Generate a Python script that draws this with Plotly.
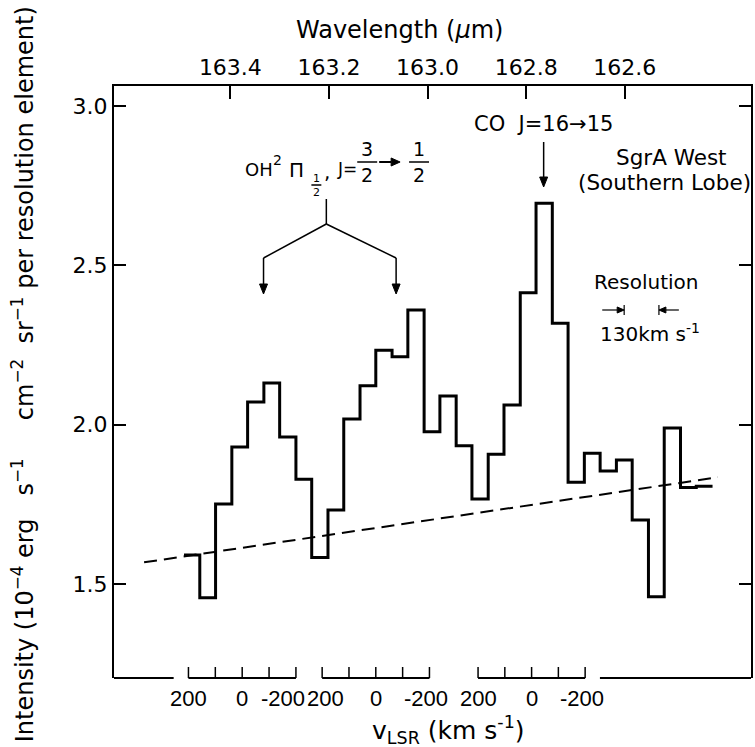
import plotly.graph_objects as go

# Channel centres (um) and intensities (1e-4 erg s-1 cm-2 sr-1 per resolution element)
wavelength = [163.478, 163.446, 163.413, 163.381, 163.348, 163.316, 163.283, 163.251,
              163.218, 163.186, 163.153, 163.121, 163.088, 163.056, 163.023, 162.991,
              162.958, 162.926, 162.893, 162.861, 162.828, 162.796, 162.763, 162.731,
              162.698, 162.666, 162.633, 162.601, 162.568, 162.536, 162.503, 162.471,
              162.438]
intensity = [1.591, 1.457, 1.751, 1.930, 2.071, 2.131, 1.961, 1.829,
             1.583, 1.732, 2.018, 2.122, 2.234, 2.213, 2.360, 1.978,
             2.090, 1.934, 1.767, 1.907, 2.062, 2.414, 2.695, 2.318,
             1.819, 1.910, 1.855, 1.889, 1.701, 1.460, 1.990, 1.803,
             1.807]

# Adopted continuum (end points)
continuum_wl = [163.575, 162.411]
continuum = [1.568, 1.835]

# Axis ticks
wl_ticks = [163.4, 163.2, 163.0, 162.8, 162.6]
wl_tick_text = ["163.4", "163.2", "163.0", "162.8", "162.6"]
int_ticks = [1.5, 2.0, 2.5, 3.0]
int_tick_text = ["1.5", "2.0", "2.5", "3.0"]

# Velocity scales: zero-velocity wavelengths of OH (two components) and CO
line_zero_wl = [163.376, 163.105, 162.789]
vel_ticks = [200, 100, 0, -100, -200]
vel_labels = [200, 0, -200]
C_KMS = 299792.458
RESOLUTION_KMS = 130
resolution_centre_wl = 162.566

X_RANGE = [163.636, 162.344]
Y_RANGE = [1.205, 3.063]

WIDTH, HEIGHT = 755, 747
L, R, T, B = 114, 2, 86, 69
PW, PH = WIDTH - L - R, HEIGHT - T - B
FONT = "DejaVu Sans"
NARROW = "Liberation Sans Narrow, Arial Narrow, Liberation Sans"


def px(xp):
    return (xp - L) / PW


def py(yp):
    return (HEIGHT - B - yp) / PH


def wl_to_px(w):
    return L + (X_RANGE[0] - w) / (X_RANGE[0] - X_RANGE[1]) * PW


def vel_to_wl(w0, v):
    return w0 * (1 + v / C_KMS)


# step-histogram edges from the channel centres
half = (wavelength[0] - wavelength[1]) / 2
edges = [wavelength[0] + half] + [w - half for w in wavelength]
steps = intensity + [intensity[-1]]

fig = go.Figure()
fig.add_trace(go.Scatter(x=continuum_wl, y=continuum, mode="lines",
                         line=dict(color="black", width=2, dash="13px,7px"),
                         hoverinfo="skip"))
fig.add_trace(go.Scatter(x=edges, y=steps, mode="lines",
                         line=dict(color="black", width=3, shape="hv")))

shapes = []
annotations = []
ink = dict(color="black", width=2)
thin = dict(color="black", width=1.5)


def seg(x0, y0, x1, y1, line=thin):
    shapes.append(dict(type="line", xref="paper", yref="paper", x0=px(x0), y0=py(y0),
                       x1=px(x1), y1=py(y1), line=line))


def arrow(x0, y0, x1, y1, head=10, wing=4, width=1.5):
    """Straight arrow from (x0, y0) to the tip (x1, y1), all in page pixels."""
    dx, dy = x1 - x0, y1 - y0
    n = (dx * dx + dy * dy) ** 0.5
    ux, uy = dx / n, dy / n
    bx, by = x1 - ux * head, y1 - uy * head
    seg(x0, y0, bx, by, dict(color="black", width=width))
    pts = [(x1, y1), (bx - uy * wing, by + ux * wing), (bx + uy * wing, by - ux * wing)]
    path = "M " + " L ".join(f"{px(a):.5f},{py(b):.5f}" for a, b in pts) + " Z"
    shapes.append(dict(type="path", xref="paper", yref="paper", path=path,
                       fillcolor="black", line=dict(color="black", width=1)))


# broken lower axis carrying the three velocity scales
tick_h = 11 / PH
gap = 0.03
pos_shift = [0, 3, 0]      # nudges so neighbouring scale labels do not collide
neg_shift = [-13, -3, -3]
for gi, w0 in enumerate(line_zero_wl):
    xs = [vel_to_wl(w0, v) for v in vel_ticks]
    shapes.append(dict(type="line", xref="x", yref="paper", x0=xs[0], x1=xs[-1],
                       y0=0, y1=0, line=ink))
    for x in xs:
        shapes.append(dict(type="line", xref="x", yref="paper", x0=x, x1=x,
                           y0=0, y1=tick_h, line=thin))
    for v in vel_labels:
        shift = neg_shift[gi] if v < 0 else (pos_shift[gi] if v > 0 else 0)
        annotations.append(dict(x=vel_to_wl(w0, v), y=-20 / PH, xref="x", yref="paper",
                                text=str(v), showarrow=False, xshift=shift,
                                font=dict(family=NARROW, size=22),
                                xanchor="center", yanchor="middle"))
shapes.append(dict(type="line", xref="x", yref="paper", x0=X_RANGE[0],
                   x1=vel_to_wl(line_zero_wl[0], vel_ticks[0]) + gap, y0=0, y1=0, line=ink))
shapes.append(dict(type="line", xref="x", yref="paper",
                   x0=vel_to_wl(line_zero_wl[-1], vel_ticks[-1]) - gap,
                   x1=X_RANGE[1], y0=0, y1=0, line=ink))

annotations.append(dict(x=px(371), y=py(730), xref="paper", yref="paper",
                        text="v<sub>LSR</sub> (km s<sup>-1</sup>)", showarrow=False,
                        font=dict(size=25), xanchor="left", yanchor="middle"))

# top axis title
annotations.append(dict(x=px(400), y=py(30), xref="paper", yref="paper",
                        text="Wavelength (<i>\u03bc</i>m)", showarrow=False,
                        font=dict(size=24), xanchor="center", yanchor="middle"))

# intensity axis title
nb = "\u00a0"
ytitle = ("Intensity (10<sup>\u22124</sup> erg" + nb * 3 + "s<sup>\u22121</sup>" + nb * 5 +
          "cm<sup>\u22122</sup>" + nb * 2 + "sr<sup>\u22121</sup> per resolution element)")
annotations.append(dict(x=px(23), y=py(374), xref="paper", yref="paper", text=ytitle,
                        textangle=-90, showarrow=False, font=dict(size=24),
                        xanchor="center", yanchor="middle"))


def label(text, xp, yp, size, anchor="center"):
    annotations.append(dict(x=px(xp), y=py(yp), xref="paper", yref="paper", text=text,
                            showarrow=False, font=dict(size=size), xanchor=anchor,
                            yanchor="middle"))


def fraction(num, den, cx, bar_y, size, half_w, off):
    label(num, cx, bar_y - off, size)
    label(den, cx, bar_y + off, size)
    seg(cx - half_w, bar_y, cx + half_w, bar_y)


# OH 2Pi1/2, J = 3/2 -> 1/2
label("OH", 243, 169, 18, "left")
label("2", 278, 160, 14)
label("\u03a0", 297, 170, 20)
fraction("1", "2", 317, 185, 11, 5, 7)
label(",", 328, 172, 20)
label("J=", 336, 169, 17, "left")
fraction("3", "2", 368, 162, 19, 10, 13)
arrow(380, 162, 401, 162, head=9, wing=4, width=2)
fraction("1", "2", 420, 162, 19, 10, 13)

# bracket pointing at the two OH components
seg(327, 199, 327, 224)
seg(327, 224, 264, 258)
seg(327, 224, 397, 258)
arrow(264, 258, 264, 294)
arrow(397, 258, 397, 294)

# CO J=16->15
label("CO" + nb * 2 + "J=16\u219215", 473, 124, 21, "left")
arrow(545, 142, 545, 187)

# source
label("SgrA West", 673, 157, 21.5)
label("(Southern Lobe)", 666, 183, 21.5)

# resolution marker
label("Resolution", 648, 282, 20)
label("130km s<sup>-1</sup>", 652, 333, 20)
dw = resolution_centre_wl * RESOLUTION_KMS / C_KMS / 2
bar_l = wl_to_px(resolution_centre_wl + dw)
bar_r = wl_to_px(resolution_centre_wl - dw)
for xb in (bar_l, bar_r):
    seg(xb, 305, xb, 315, dict(color="black", width=1.2))
arrow(bar_l - 22, 310, bar_l, 310, head=7, wing=3, width=1.2)
arrow(bar_r + 20, 310, bar_r, 310, head=7, wing=3, width=1.2)

fig.update_layout(
    width=WIDTH, height=HEIGHT,
    margin=dict(l=L, r=R, t=T, b=B),
    paper_bgcolor="white", plot_bgcolor="white",
    font=dict(family=FONT, color="black"),
    showlegend=False,
    shapes=shapes,
    annotations=annotations,
    xaxis=dict(range=X_RANGE, side="top", showline=True, linecolor="black", linewidth=2,
               ticks="inside", ticklen=13, tickwidth=1.5, tickcolor="black",
               tickvals=wl_ticks, ticktext=wl_tick_text, tickfont=dict(size=22),
               showgrid=False, zeroline=False, mirror=False),
    yaxis=dict(range=Y_RANGE, showline=True, linecolor="black", linewidth=2,
               mirror="ticks", ticks="inside", ticklen=12, tickwidth=1.5,
               tickcolor="black", tickvals=int_ticks, ticktext=int_tick_text,
               tickfont=dict(size=22), showgrid=False, zeroline=False),
)

fig.write_html("out.html")
